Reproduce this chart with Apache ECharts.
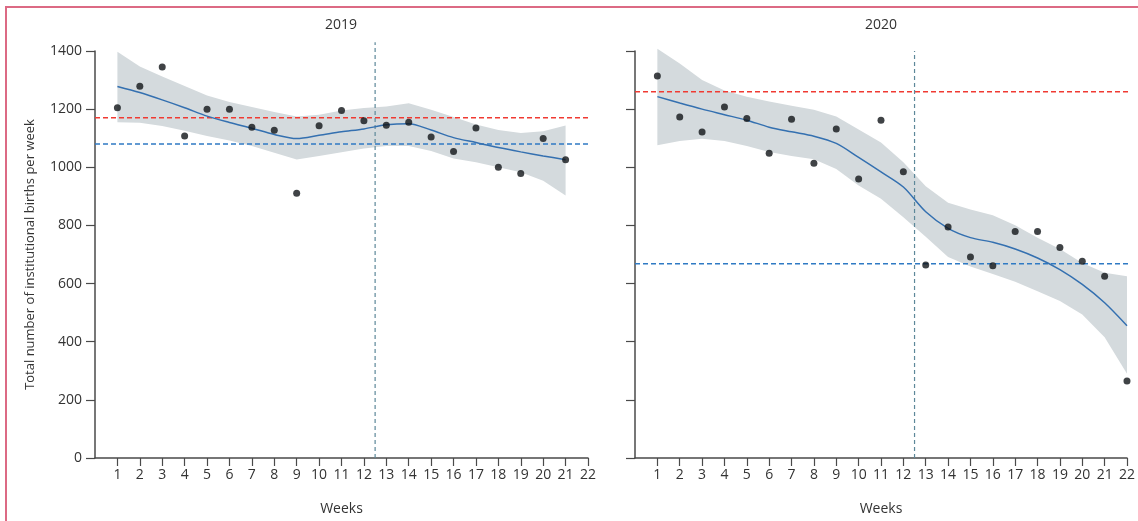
<!DOCTYPE html>
<html>
<head>
<meta charset="utf-8">
<title>Institutional births per week</title>
<script src="https://cdn.jsdelivr.net/npm/echarts@6/dist/echarts.min.js"></script>
<style>
	html, body { margin: 0; padding: 0; background: #fff; overflow: hidden; }
	#wrap { position: relative; width: 1138px; height: 521px; }
	#main { width: 1138px; height: 521px; }
	#frame {
		position: absolute; left: 5px; top: 6px; right: 0; bottom: 0;
		border-left: 2px solid #dc6a84; border-top: 2px solid #dc6a84;
		pointer-events: none;
	}
</style>
</head>
<body>
<div id="wrap">
	<div id="main"></div>
	<div id="frame"></div>
</div>
<script>
var weekTicks = [1, 2, 3, 4, 5, 6, 7, 8, 9, 10, 11, 12, 13, 14, 15, 16, 17, 18, 19, 20, 21, 22];
var yTicks = [0, 200, 400, 600, 800, 1000, 1200, 1400];

// 2019
var weeks2019 = [1, 2, 3, 4, 5, 6, 7, 8, 9, 10, 11, 12, 13, 14, 15, 16, 17, 18, 19, 20, 21];
var births2019 = [1205, 1279, 1345, 1108, 1200, 1200, 1138, 1127, 911, 1143, 1195, 1160, 1145, 1155, 1104, 1054, 1135, 1000, 979, 1099, 1026];
var fit2019 = [1278, 1257, 1232, 1205, 1176, 1154, 1134, 1113, 1099, 1110, 1122, 1132, 1146, 1150, 1128, 1102, 1085, 1068, 1053, 1039, 1026];
var upper2019 = [1397, 1347, 1312, 1280, 1247, 1225, 1207, 1190, 1175, 1181, 1195, 1204, 1209, 1220, 1198, 1173, 1147, 1128, 1118, 1124, 1144];
var lower2019 = [1155, 1153, 1142, 1126, 1108, 1092, 1073, 1050, 1027, 1039, 1052, 1065, 1073, 1073, 1056, 1030, 1017, 1000, 983, 954, 903];
var before2019 = 1170;
var after2019 = 1080;

// 2020
var weeks2020 = [1, 2, 3, 4, 5, 6, 7, 8, 9, 10, 11, 12, 13, 14, 15, 16, 17, 18, 19, 20, 21, 22];
var births2020 = [1314, 1173, 1121, 1207, 1168, 1048, 1165, 1014, 1132, 960, 1162, 985, 664, 795, 691, 661, 779, 779, 724, 677, 625, 265];
var fit2020 = [1243, 1221, 1200, 1181, 1162, 1138, 1122, 1107, 1082, 1034, 984, 932, 847, 790, 758, 742, 719, 688, 648, 597, 534, 455];
var upper2020 = [1408, 1357, 1300, 1264, 1243, 1226, 1212, 1198, 1175, 1130, 1085, 1017, 935, 878, 855, 835, 801, 758, 719, 671, 637, 625];
var lower2020 = [1076, 1090, 1098, 1090, 1073, 1053, 1039, 1028, 994, 937, 892, 828, 761, 691, 659, 633, 606, 574, 540, 494, 415, 290];
var before2020 = 1260;
var after2020 = 668;

var lockdownWeek = 12.5;

var FONT = '"Open Sans", "Noto Sans", sans-serif';
var AXIS_COLOR = '#4a4a4a';
var TEXT_COLOR = '#333333';

function pairs(xs, ys) {
	var out = [];
	for (var i = 0; i < xs.length; i++) {
		out.push([xs[i], ys[i]]);
	}
	return out;
}

// grey confidence band drawn as one polygon
function bandSeries(idx, weeks, lower, upper) {
	var data = [];
	for (var i = 0; i < weeks.length; i++) {
		data.push([weeks[i], lower[i], upper[i]]);
	}
	return {
		type: 'custom',
		xAxisIndex: idx,
		yAxisIndex: idx,
		silent: true,
		z: 1,
		data: data,
		encode: { x: 0, y: [1, 2] },
		renderItem: function (params, api) {
			if (params.dataIndex !== 0) return;
			var pts = [];
			for (var i = 0; i < weeks.length; i++) {
				pts.push(api.coord([weeks[i], upper[i]]));
			}
			for (var j = weeks.length - 1; j >= 0; j--) {
				pts.push(api.coord([weeks[j], lower[j]]));
			}
			return {
				type: 'polygon',
				shape: { points: pts },
				style: { fill: '#d4dadd' }
			};
		}
	};
}

// dashed reference line (horizontal mean or vertical lockdown marker)
function refLine(idx, data, color, dash, width) {
	return {
		type: 'line',
		xAxisIndex: idx,
		yAxisIndex: idx,
		data: data,
		showSymbol: false,
		silent: true,
		clip: false,
		z: 2,
		itemStyle: { color: color },
		lineStyle: { color: color, type: dash, width: width }
	};
}

function fitSeries(idx, weeks, fit) {
	return {
		type: 'line',
		xAxisIndex: idx,
		yAxisIndex: idx,
		data: pairs(weeks, fit),
		smooth: 0.3,
		showSymbol: false,
		silent: true,
		z: 3,
		lineStyle: { color: '#3470b0', width: 1.5 }
	};
}

function dotSeries(idx, weeks, births) {
	return {
		type: 'scatter',
		xAxisIndex: idx,
		yAxisIndex: idx,
		data: pairs(weeks, births),
		symbolSize: 7,
		silent: true,
		z: 4,
		itemStyle: { color: '#101418' }
	};
}

function xAxisCfg(idx) {
	return {
		gridIndex: idx,
		type: 'value',
		min: 0,
		max: 22,
		interval: 1,
		name: 'Weeks',
		nameLocation: 'middle',
		nameGap: 44,
		nameTextStyle: { color: TEXT_COLOR, fontSize: 14, fontFamily: FONT },
		axisLine: { show: true, lineStyle: { color: AXIS_COLOR, width: 1.5 } },
		axisTick: { show: true, length: 8, customValues: weekTicks, lineStyle: { color: AXIS_COLOR, width: 1.2 } },
		axisLabel: { customValues: weekTicks, margin: 10, color: TEXT_COLOR, fontSize: 14, fontFamily: FONT },
		splitLine: { show: false }
	};
}

function yAxisCfg(idx) {
	var cfg = {
		gridIndex: idx,
		type: 'value',
		min: 0,
		max: 1400,
		interval: 200,
		axisLine: { show: true, lineStyle: { color: AXIS_COLOR, width: 1.5 } },
		axisTick: { show: true, length: 9, customValues: yTicks, lineStyle: { color: AXIS_COLOR, width: 1.2 } },
		axisLabel: {
			show: idx === 0, margin: 13, color: TEXT_COLOR, fontSize: 14, fontFamily: FONT,
			formatter: function (v) { return String(v); }
		},
		splitLine: { show: false }
	};
	if (idx === 0) {
		cfg.name = 'Total number of institutional births per week';
		cfg.nameLocation = 'middle';
		cfg.nameGap = 58;
		cfg.nameTextStyle = { color: TEXT_COLOR, fontSize: 13, fontFamily: FONT };
	}
	return cfg;
}

var RED = '#f03a32';
var BLUE = '#2f7ac4';
var GREY = '#5d8899';

var myChart = echarts.init(document.getElementById('main'));
var option = {
	animation: false,
	backgroundColor: '#ffffff',
	title: [
		{ text: '2019', left: 341, top: 18, padding: 0, textAlign: 'center',
			textStyle: { color: TEXT_COLOR, fontSize: 14, fontWeight: 'normal', fontFamily: FONT } },
		{ text: '2020', left: 881, top: 18, padding: 0, textAlign: 'center',
			textStyle: { color: TEXT_COLOR, fontSize: 14, fontWeight: 'normal', fontFamily: FONT } }
	],
	grid: [
		{ left: 95, top: 51, width: 493, height: 411 },
		{ left: 635, top: 51, width: 493, height: 411 }
	],
	xAxis: [xAxisCfg(0), xAxisCfg(1)],
	yAxis: [yAxisCfg(0), yAxisCfg(1)],
	series: [
		bandSeries(0, weeks2019, lower2019, upper2019),
		refLine(0, [[0, before2019], [22, before2019]], RED, [5, 3], 1.5),
		refLine(0, [[0, after2019], [22, after2019]], BLUE, [5, 3], 1.5),
		refLine(0, [[lockdownWeek, 0], [lockdownWeek, 1430]], GREY, [4, 3], 1.2),
		fitSeries(0, weeks2019, fit2019),
		dotSeries(0, weeks2019, births2019),

		bandSeries(1, weeks2020, lower2020, upper2020),
		refLine(1, [[0, before2020], [22.35, before2020]], RED, [5, 3], 1.5),
		refLine(1, [[0, after2020], [22.35, after2020]], BLUE, [5, 3], 1.5),
		refLine(1, [[lockdownWeek, 0], [lockdownWeek, 1400]], GREY, [4, 3], 1.2),
		fitSeries(1, weeks2020, fit2020),
		dotSeries(1, weeks2020, births2020)
	]
};
myChart.setOption(option);
</script>
</body>
</html>
